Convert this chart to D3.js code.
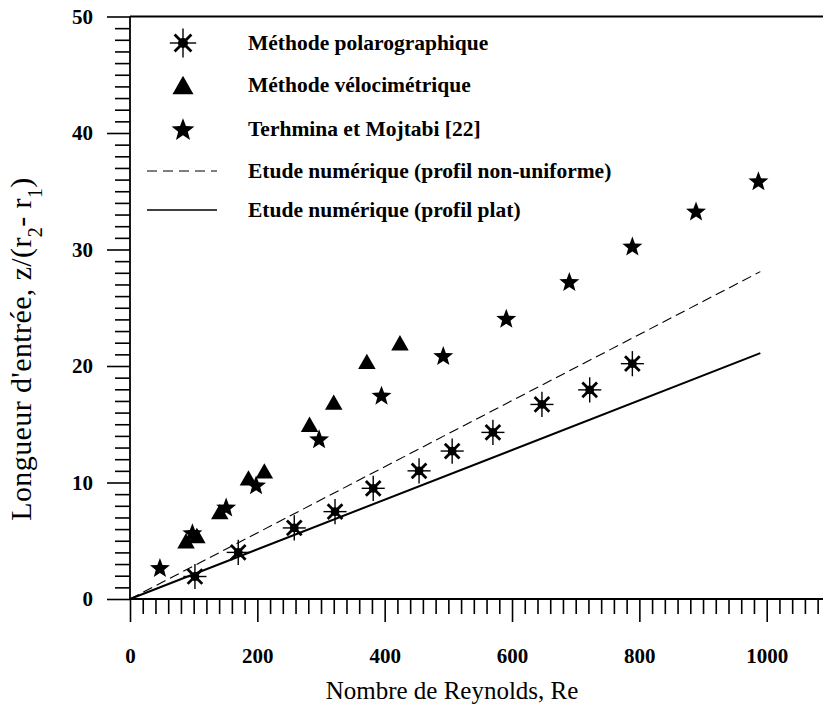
<!DOCTYPE html>
<html>
<head>
<meta charset="utf-8">
<script src="https://cdn.jsdelivr.net/npm/d3@7"></script>
<style>
  html, body { margin: 0; padding: 0; background: #fff; }
  svg { display: block; }
  text { font-family: "Liberation Serif", "Times New Roman", serif; fill: #000; }
</style>
</head>
<body>
<svg id="chart" width="823" height="704"></svg>
<script>
// Entrance length vs Reynolds number
const rePolaro = [102, 170, 258, 322, 382, 454, 506, 570, 647, 722, 789];
const zPolaro  = [1.93, 4.0, 6.1, 7.5, 9.5, 11.0, 12.7, 14.3, 16.7, 17.95, 20.2];

const reVelo = [88, 105, 141, 186, 211, 282, 320, 372, 424];
const zVelo  = [5.0, 5.45, 7.5, 10.4, 11.0, 15.0, 16.9, 20.4, 22.0];

const reTerh = [47, 98, 151, 198, 297, 395, 492, 591, 690, 789, 889, 987];
const zTerh  = [2.7, 5.7, 7.9, 9.8, 13.75, 17.5, 20.9, 24.1, 27.25, 30.3, 33.3, 35.9];

const reNum = [0, 990];
const zNonUniforme = [0, 28.1];
const zPlat = [0, 21.1];

const xTicks = [0, 200, 400, 600, 800, 1000];
const yTicks = [0, 10, 20, 30, 40, 50];

const legendLabels = [
  "Méthode polarographique",
  "Méthode vélocimétrique",
  "Terhmina et Mojtabi [22]",
  "Etude numérique (profil non-uniforme)",
  "Etude numérique (profil plat)"
];

const svg = d3.select("#chart");

const x = d3.scaleLinear().domain([0, 1100]).range([130, 130 + 1100 * 0.6367]);
const y = d3.scaleLinear().domain([0, 50]).range([599, 16.5]);

// ----- axes -----
const xMinor = d3.range(0, 1101, 20).filter(v => v % 200 !== 0);
const yMinor = d3.range(0, 51, 1).filter(v => v % 10 !== 0);

const gx = svg.append("g").attr("transform", `translate(0,${y(0)})`);
gx.call(d3.axisBottom(x).tickValues(xMinor).tickSize(15).tickFormat(""));
gx.select(".domain").remove();
const gxMaj = svg.append("g").attr("transform", `translate(0,${y(0)})`);
gxMaj.call(d3.axisBottom(x).tickValues(xTicks).tickSize(23).tickPadding(26).tickFormat(d3.format("d")));
gxMaj.select(".domain").remove();

const gy = svg.append("g").attr("transform", `translate(${x(0)},0)`);
gy.call(d3.axisLeft(y).tickValues(yMinor).tickSize(15).tickFormat(""));
gy.select(".domain").remove();
const gyMaj = svg.append("g").attr("transform", `translate(${x(0)},0)`);
gyMaj.call(d3.axisLeft(y).tickValues(yTicks).tickSize(23).tickPadding(14).tickFormat(d3.format("d")));
gyMaj.select(".domain").remove();

svg.selectAll(".tick line").attr("stroke", "#000").attr("stroke-width", 1.6);
svg.selectAll(".tick text")
  .style("font-family", '"Liberation Serif", serif')
  .style("font-size", "21px")
  .style("font-weight", "bold")
  .attr("fill", "#000");

// axis lines and top frame
svg.append("line").attr("x1", x(0)).attr("x2", 823).attr("y1", y(0)).attr("y2", y(0))
  .attr("stroke", "#000").attr("stroke-width", 1.8);
svg.append("line").attr("x1", x(0)).attr("x2", x(0)).attr("y1", y(50)).attr("y2", y(0))
  .attr("stroke", "#000").attr("stroke-width", 1.8);
svg.append("line").attr("x1", x(0)).attr("x2", 823).attr("y1", y(50)).attr("y2", y(50))
  .attr("stroke", "#000").attr("stroke-width", 1.8);

// axis titles
svg.append("text")
  .attr("x", 452).attr("y", 699)
  .attr("text-anchor", "middle")
  .style("font-size", "25px")
  .text("Nombre de Reynolds, Re");

const yt = svg.append("text")
  .attr("transform", `translate(31,349) rotate(-90)`)
  .attr("text-anchor", "middle")
  .style("font-size", "30px")
  .style("letter-spacing", "0.4px");
yt.append("tspan").text("Longueur d'entrée, z/(r");
yt.append("tspan").attr("baseline-shift", "sub").style("font-size", "20px").text("2");
yt.append("tspan").text("- r");
yt.append("tspan").attr("baseline-shift", "sub").style("font-size", "20px").text("1");
yt.append("tspan").text(")");

// ----- marker shapes -----
function asterisk(g, s) {
  const k = s / 10;
  g.append("line").attr("x1", 0).attr("x2", 0).attr("y1", -12 * k).attr("y2", 12 * k)
    .attr("stroke", "#000").attr("stroke-width", 1.4);
  g.append("line").attr("x1", -11 * k).attr("x2", 11 * k).attr("y1", 0).attr("y2", 0)
    .attr("stroke", "#000").attr("stroke-width", 1.4);
  [[1, 1], [1, -1]].forEach(([a, b]) => {
    g.append("line").attr("x1", -7 * k * a).attr("x2", 7 * k * a)
      .attr("y1", -7 * k * b).attr("y2", 7 * k * b)
      .attr("stroke", "#000").attr("stroke-width", 2.8);
  });
  g.append("circle").attr("r", 4.2 * k).attr("fill", "#000");
}
function triangle(g, s) {
  const w = s, h = s * 0.88;
  g.append("path").attr("d", `M0,${-h / 2}L${w / 2},${h / 2}L${-w / 2},${h / 2}Z`).attr("fill", "#000");
}
function star(g, r) {
  const pts = [];
  for (let i = 0; i < 10; i++) {
    const rr = i % 2 === 0 ? r : r * 0.42;
    const a = -Math.PI / 2 + i * Math.PI / 5;
    pts.push([rr * Math.cos(a), rr * Math.sin(a) + r * 0.1]);
  }
  g.append("path").attr("d", "M" + pts.map(p => p.join(",")).join("L") + "Z").attr("fill", "#000");
}

// ----- numeric result lines -----
const line = d3.line().x(d => x(d[0])).y(d => y(d[1]));
svg.append("path")
  .datum(reNum.map((r, i) => [r, zNonUniforme[i]]))
  .attr("d", line).attr("fill", "none").attr("stroke", "#000")
  .attr("stroke-width", 1.1).attr("stroke-dasharray", "10,5");
svg.append("path")
  .datum(reNum.map((r, i) => [r, zPlat[i]]))
  .attr("d", line).attr("fill", "none").attr("stroke", "#000")
  .attr("stroke-width", 2);

// ----- data points -----
rePolaro.forEach((r, i) => asterisk(svg.append("g").attr("transform", `translate(${x(r)},${y(zPolaro[i])})`), 10.5));
reVelo.forEach((r, i) => triangle(svg.append("g").attr("transform", `translate(${x(r)},${y(zVelo[i])})`), 17.5));
reTerh.forEach((r, i) => star(svg.append("g").attr("transform", `translate(${x(r)},${y(zTerh[i])})`), 10.5));

// ----- legend -----
const legX = 183, legTextX = 248;
const legY = [43, 85, 129, 171, 210];
asterisk(svg.append("g").attr("transform", `translate(${legX},${legY[0]})`), 12);
triangle(svg.append("g").attr("transform", `translate(${legX},${legY[1]})`), 21);
star(svg.append("g").attr("transform", `translate(${legX},${legY[2]})`), 12);
svg.append("line").attr("x1", 147).attr("x2", 217).attr("y1", legY[3]).attr("y2", legY[3])
  .attr("stroke", "#000").attr("stroke-width", 1.1).attr("stroke-dasharray", "10,6");
svg.append("line").attr("x1", 147).attr("x2", 217).attr("y1", legY[4]).attr("y2", legY[4])
  .attr("stroke", "#000").attr("stroke-width", 1.6);

legendLabels.forEach((t, i) => {
  svg.append("text")
    .attr("x", legTextX).attr("y", legY[i] + 7)
    .style("font-size", "21.5px").style("font-weight", "bold")
    .text(t);
});
</script>
</body>
</html>
